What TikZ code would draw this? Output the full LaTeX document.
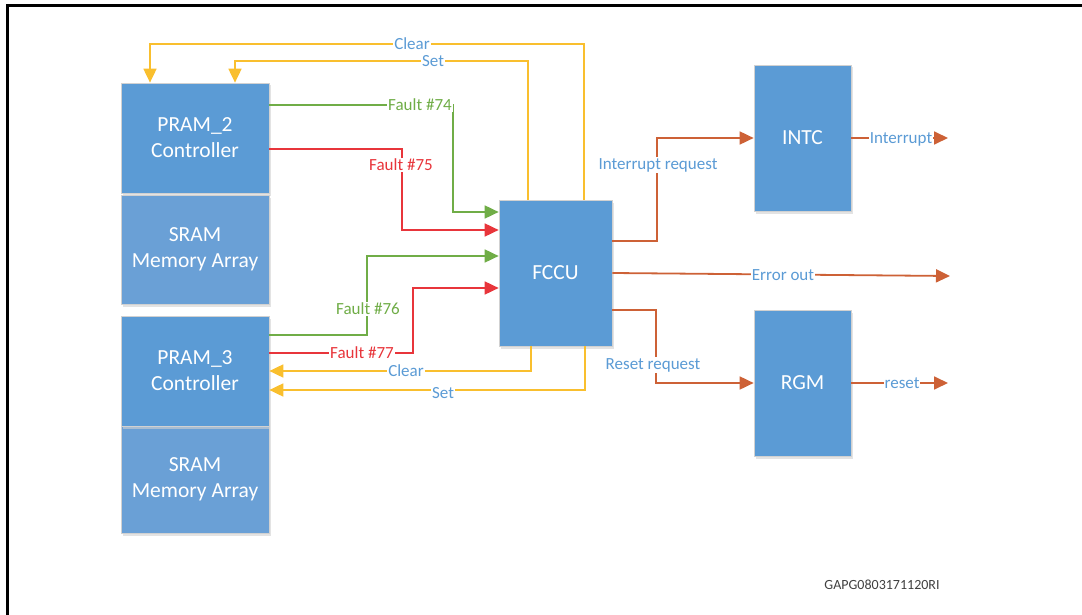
\documentclass[tikz,border=0pt]{standalone}
\usepackage{fontspec}
\setmainfont{Carlito}
\usetikzlibrary{arrows.meta,shadows}
\definecolor{boxblue}{HTML}{5B9BD5}
\definecolor{sramblue}{HTML}{6AA0D6}
\definecolor{lblblue}{HTML}{5B9BD5}
\definecolor{yel}{HTML}{F9BF2E}
\definecolor{grn}{HTML}{70AD47}
\definecolor{rd}{HTML}{E8353B}
\definecolor{org}{HTML}{CD6136}
\definecolor{idgray}{HTML}{404040}
\begin{document}
\begin{tikzpicture}[x=1pt,y=-1pt,
  blk/.style={draw=black!18, line width=0.7pt, fill=boxblue, text=white,
    font=\fontsize{21.5}{26}\selectfont, align=center, inner sep=0pt,
    drop shadow={shadow xshift=1.5pt, shadow yshift=-2.5pt, fill=black!18, opacity=0.6}},
  wire/.style={line width=1.8pt, line join=miter},
  tip/.style={-{Triangle[length=14pt,width=13pt]}},
  lbl/.style={fill=white, inner sep=1pt, font=\fontsize{17}{19}\selectfont, text=lblblue}
]
\useasboundingbox (0,0) rectangle (1082,615);
\draw[line width=3pt] (7.5,615) -- (7.5,6) -- (1082,6);

% boxes
\node[blk, minimum width=148pt, minimum height=109pt, fill=sramblue] (s2) at (195,249.5) {SRAM\\Memory Array};
\node[blk, minimum width=148pt, minimum height=110pt] (p2) at (195,138) {PRAM\_2\\Controller};
\node[blk, minimum width=148pt, minimum height=107pt, fill=sramblue] (s3) at (195,479.5) {SRAM\\Memory Array};
\node[blk, minimum width=148pt, minimum height=110pt] (p3) at (195,371) {PRAM\_3\\Controller};
\node[blk, minimum width=113pt, minimum height=146pt] (fccu) at (555.5,273) {FCCU};
\node[blk, minimum width=97pt, minimum height=146pt] (intc) at (802.5,138) {INTC};
\node[blk, minimum width=97pt, minimum height=146pt] (rgm) at (802.5,383) {RGM};

% free ends
\coordinate (eoEnd) at (950,276);
\coordinate (intEnd) at (948,138);
\coordinate (rstEnd) at (948,383);

% yellow clear/set
\draw[wire, yel, tip] (fccu.north -| 584,0) -- (584,44) -- (150,44) -- (p2.north -| 150,0);
\draw[wire, yel, tip] (fccu.north -| 528,0) -- (528,61) -- (235,61) -- (p2.north -| 235,0);
\draw[wire, yel, tip] (fccu.south -| 531,0) -- (531,371) -- (p3.east |- 0,371);
\draw[wire, yel, tip] (fccu.south -| 585,0) -- (585,390) -- (p3.east |- 0,390);

% faults
\draw[wire, grn, tip] (p2.east |- 0,105) -- (453,105) -- (453,212) -- (fccu.west |- 0,212);
\draw[wire, rd, tip] (p2.east |- 0,149) -- (402,149) -- (402,230) -- (fccu.west |- 0,230);
\draw[wire, grn, tip] (p3.east |- 0,335) -- (367,335) -- (367,256) -- (fccu.west |- 0,256);
\draw[wire, rd, tip] (p3.east |- 0,353) -- (413,353) -- (413,288) -- (fccu.west |- 0,288);

% orange outputs
\draw[wire, org, tip] (fccu.east |- 0,241) -- (657,241) -- (657,138) -- (intc.west);
\draw[wire, org, tip] (fccu.east |- 0,273) -- (eoEnd);
\draw[wire, org, tip] (fccu.east |- 0,310) -- (656,310) -- (656,383) -- (rgm.west);
\draw[wire, org, tip] (intc.east) -- (intEnd);
\draw[wire, org, tip] (rgm.east) -- (rstEnd);

% labels
\node[lbl] (lClearT) at (412,44) {Clear};
\node[lbl] (lSetT) at (433,61) {Set};
\node[lbl, text=grn] (l74) at (420,105) {Fault \#74};
\node[lbl, text=rd] (l75) at (401,165) {Fault \#75};
\node[lbl, text=grn] (l76) at (368,309) {Fault \#76};
\node[lbl, text=rd] (l77) at (362,353) {Fault \#77};
\node[lbl] (lClearB) at (406,371) {Clear};
\node[lbl] (lSetB) at (443,393) {Set};
\node[lbl] (lIrq) at (658,165) {Interrupt request};
\node[lbl] (lErr) at (783,275) {Error out};
\node[lbl] (lRrq) at (653,365) {Reset request};
\node[lbl] (lInt) at (901,139) {Interrupt};
\node[lbl] (lRst) at (902,383) {reset};

\node[font=\fontsize{14}{16}\selectfont, text=idgray, inner sep=0pt] (figid) at (882,585) {GAPG0803171120RI};
\end{tikzpicture}
\end{document}
